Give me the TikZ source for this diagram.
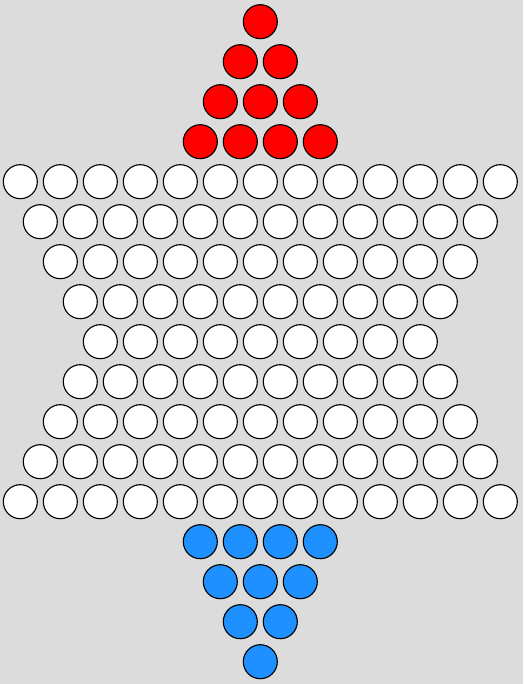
\documentclass[tikz,border=0pt]{standalone}
\usepackage{xcolor}
\usepackage{tikz}
\definecolor{boardbg}{RGB}{220,220,220}
\definecolor{redpeg}{RGB}{255,0,0}
\definecolor{bluepeg}{RGB}{30,144,255}
\tikzset{
  hole/.style  ={circle, draw=black, line width=0.8pt, minimum size=8.5mm, inner sep=0pt},
  emptyh/.style={hole, fill=white},
  redh/.style  ={hole, fill=redpeg},
  blueh/.style ={hole, fill=bluepeg},
}
\begin{document}
\begin{tikzpicture}
    % board
    \fill[boardbg] (-6.5075,0.5425) rectangle (6.5675,-16.5575);
    \useasboundingbox (-6.5075,0.5425) rectangle (6.5675,-16.5575);

    % holes, row by row: row/count/style
    \foreach \r/\n/\s in {0/1/redh, 1/2/redh, 2/3/redh, 3/4/redh,
                          4/13/emptyh, 5/12/emptyh, 6/11/emptyh, 7/10/emptyh, 8/9/emptyh,
                          9/10/emptyh, 10/11/emptyh, 11/12/emptyh, 12/13/emptyh,
                          13/4/blueh, 14/3/blueh, 15/2/blueh, 16/1/blueh}{
      \foreach \k in {1,...,\n}{
        \node[\s] (h-\r-\k) at ({\k-(\n+1)/2},-\r) {};
      }
    }
\end{tikzpicture}
\end{document}
